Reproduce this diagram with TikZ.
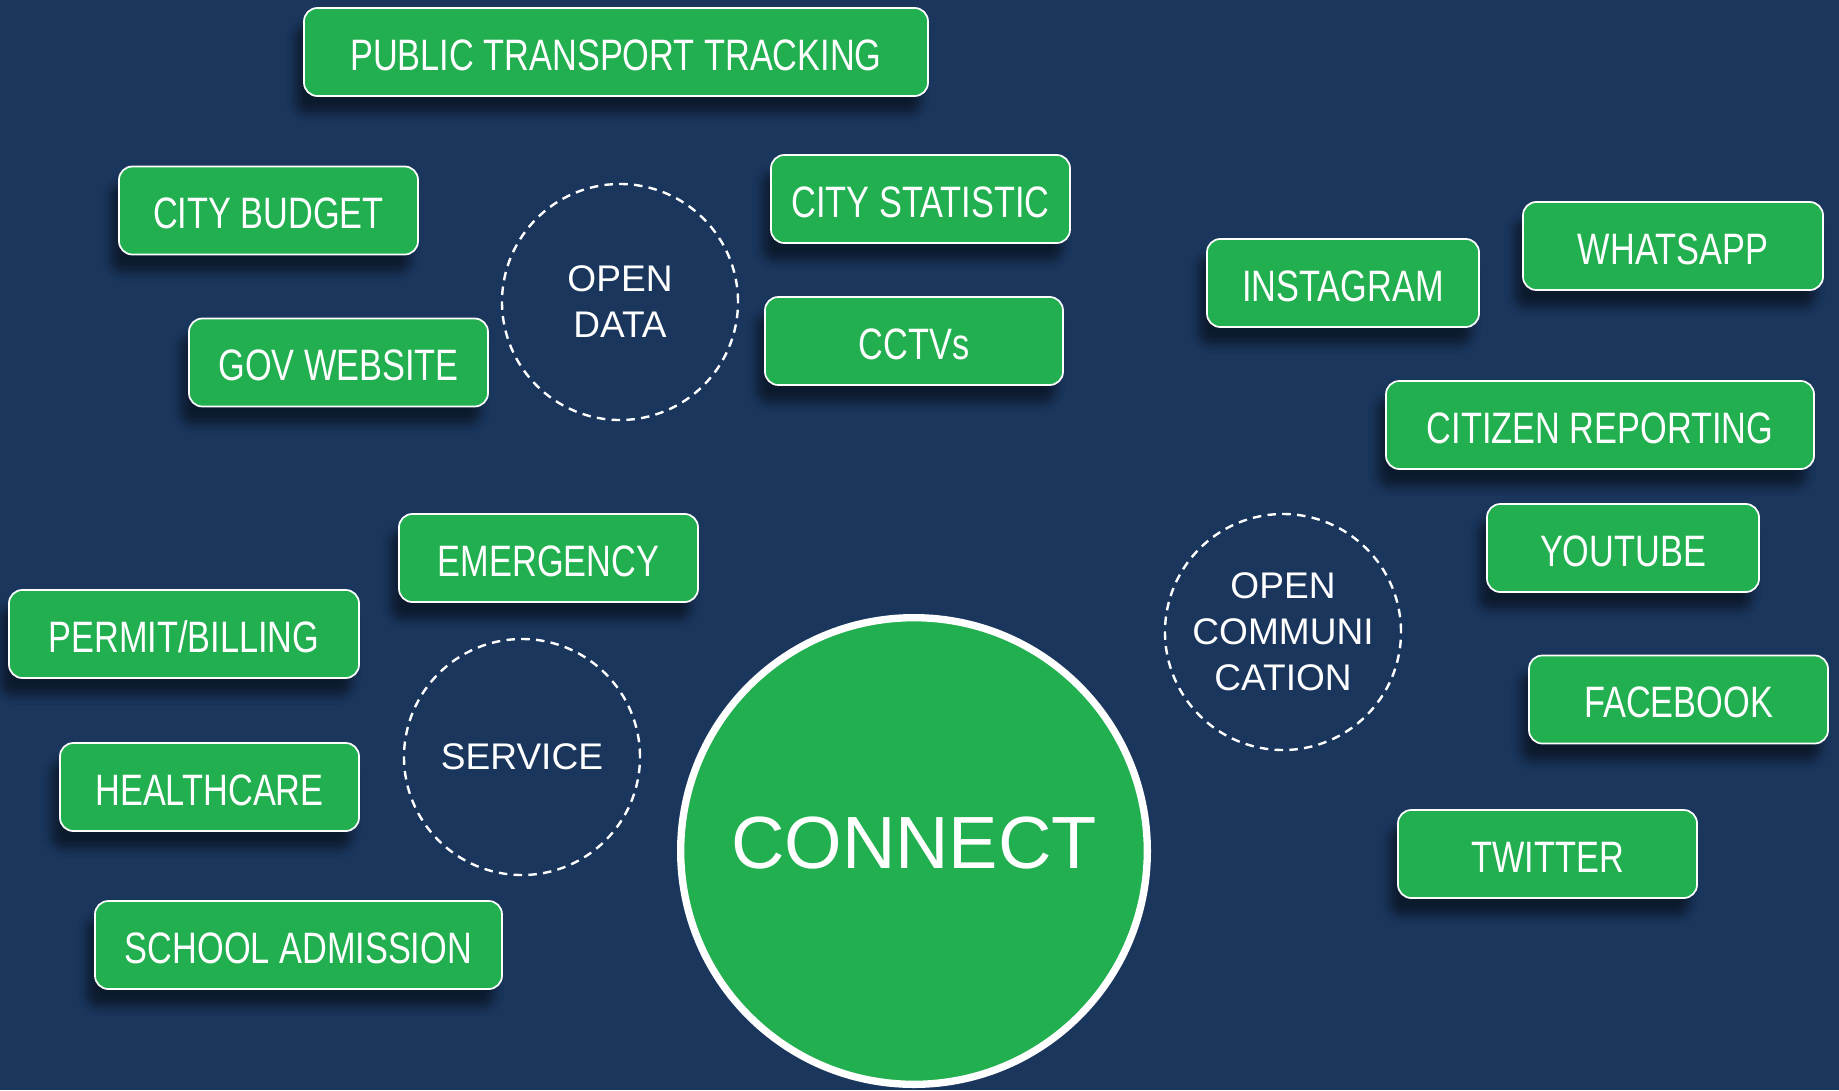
\documentclass[tikz,border=0pt]{standalone}
\usepackage{fontspec}
\setmainfont{Liberation Sans}
\newfontfamily\narrowfont[FakeStretch=0.78]{Liberation Sans}
\usetikzlibrary{shadows.blur}
\definecolor{bgnavy}{RGB}{26,54,93}
\definecolor{boxgreen}{RGB}{34,175,80}
\tikzset{
  gbox/.style={draw=white, line width=1.3pt, fill=boxgreen, rounded corners=10pt,
    inner sep=0pt, text=white, font=\narrowfont\fontsize{33}{36}\selectfont,
    text height=27pt, text depth=0pt, minimum height=66pt, minimum width={#1*0.75pt},
    blur shadow={shadow xshift=-6pt, shadow yshift=-13pt, shadow blur radius=7pt, shadow opacity=50}},
  hub/.style={circle, draw=white, dash pattern=on 6.4pt off 4.7pt, line width=1.8pt,
    minimum size=177pt, inner sep=0pt, text=white, align=center,
    font=\fontsize{27.8}{34.5}\selectfont},
  core/.style={circle, draw=white, line width=5.5pt, fill=boxgreen, minimum size=350pt,
    inner sep=0pt, text=white, font=\fontsize{55.5}{60}\selectfont,
    text height=39.7pt, text depth=13.5pt}
}
\begin{document}
\begin{tikzpicture}[x=0.75pt, y=-0.75pt]
\path[use as bounding box, fill=bgnavy] (0,0) rectangle (1839,1090);

% Open data group
\node[gbox=624] (ptt) at (616,52) {PUBLIC TRANSPORT TRACKING};
\node[gbox=299] (budget) at (268.5,210.5) {CITY BUDGET};
\node[gbox=299] (gov) at (338.5,362.5) {GOV WEBSITE};
\node[gbox=299] (stat) at (920.5,199) {CITY STATISTIC};
\node[gbox=298] (cctv) at (914,341) {CCTVs};
\node[hub] (opendata) at (620,302) {OPEN\\DATA};

% Open communication group
\node[gbox=272] (insta) at (1343,283) {INSTAGRAM};
\node[gbox=300] (whats) at (1673,246) {WHATSAPP};
\node[gbox=428] (citizen) at (1600,425) {CITIZEN REPORTING};
\node[gbox=272] (yt) at (1623,548) {YOUTUBE};
\node[gbox=299] (fb) at (1678.5,699.5) {FACEBOOK};
\node[gbox=299] (tw) at (1547.5,854) {TWITTER};
\node[hub] (opencomm) at (1283,632) {OPEN\\COMMUNI\\CATION};

% Service group
\node[gbox=299] (emer) at (548.5,558) {EMERGENCY};
\node[gbox=350] (permit) at (184,634) {PERMIT/BILLING};
\node[gbox=299] (health) at (209.5,787) {HEALTHCARE};
\node[gbox=407] (school) at (298.5,945) {SCHOOL ADMISSION};
\node[hub] (service) at (522,757) {SERVICE};

% Core
\node[core] (connect) at (914,851) {CONNECT};
\end{tikzpicture}
\end{document}
